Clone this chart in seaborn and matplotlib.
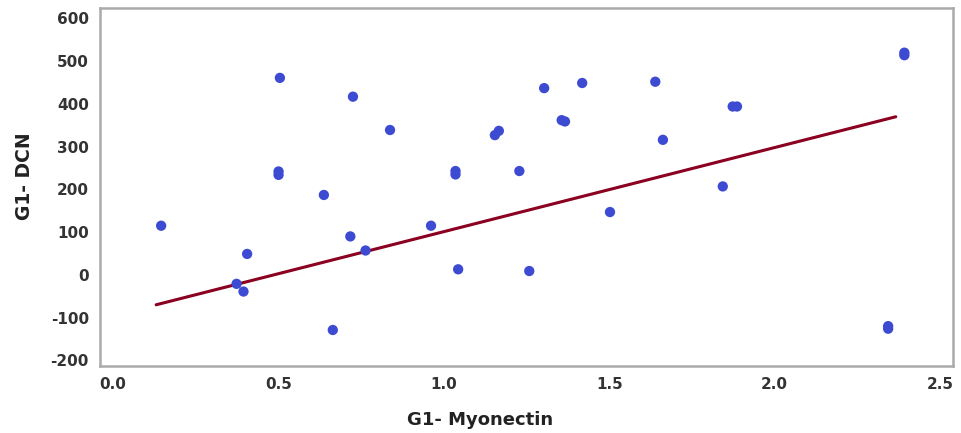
import matplotlib
matplotlib.use("Agg")
import matplotlib.pyplot as plt
import seaborn as sns
import pandas as pd

myonectin = [0.145, 0.373, 0.394, 0.405, 0.504, 0.500, 0.500, 0.637, 0.664, 0.717,
             0.725, 0.763, 0.837, 0.961, 1.035, 1.035, 1.043, 1.154, 1.166, 1.228,
             1.258, 1.303, 1.356, 1.366, 1.418, 1.502, 1.639, 1.662, 1.843, 1.873,
             1.886, 2.343, 2.343, 2.392, 2.392]
dcn = [115, -21, -39, 49, 461, 242, 234, 187, -129, 90,
       417, 57, 339, 115, 243, 235, 13, 327, 337, 243,
       9, 437, 362, 359, 449, 147, 452, 316, 207, 394,
       394, -120, -126, 520, 514]

fit_x = [0.13, 2.366]
fit_y = [-70, 370]

x_ticks = [0.0, 0.5, 1.0, 1.5, 2.0, 2.5]
y_ticks = [-200, -100, 0, 100, 200, 300, 400, 500, 600]

sns.set_style("white")
plt.rcParams['font.family'] = ['DejaVu Sans']

df = pd.DataFrame({"x": myonectin, "y": dcn})
fit = pd.DataFrame({"x": fit_x, "y": fit_y})

fig = plt.figure(figsize=(9.61, 4.33), dpi=100)
ax = fig.add_axes([0.104, 0.155, 0.888, 0.827])

sns.lineplot(data=fit, x="x", y="y", ax=ax, color="#8b0020", linewidth=2.2, zorder=2)
sns.scatterplot(data=df, x="x", y="y", ax=ax, color="#3d4bd2", s=55,
                edgecolor="none", zorder=3)

ax.set_xlim(-0.04, 2.54)
ax.set_ylim(-213, 625)
ax.set_xticks(x_ticks)
ax.set_xticklabels([f"{t:.1f}" for t in x_ticks])
ax.set_yticks(y_ticks)
ax.set_yticklabels([str(t) for t in y_ticks])

for sp in ax.spines.values():
    sp.set_color("#aaaaaa")
    sp.set_linewidth(1.8)

ax.tick_params(axis="both", direction="out", length=5, width=1.5, color="#aaaaaa",
               labelsize=11, labelcolor="#333333", pad=3)
for lab in ax.get_xticklabels() + ax.get_yticklabels():
    lab.set_fontweight("bold")

ax.set_xlabel("G1- Myonectin", fontsize=13, fontweight="bold", color="#222222")
ax.set_ylabel("G1- DCN", fontsize=13.5, fontweight="bold", color="#222222")
ax.xaxis.set_label_coords(0.445, -0.125)
ax.yaxis.set_label_coords(-0.077, 0.53)

fig.savefig("out.png", dpi=100, facecolor="white")
